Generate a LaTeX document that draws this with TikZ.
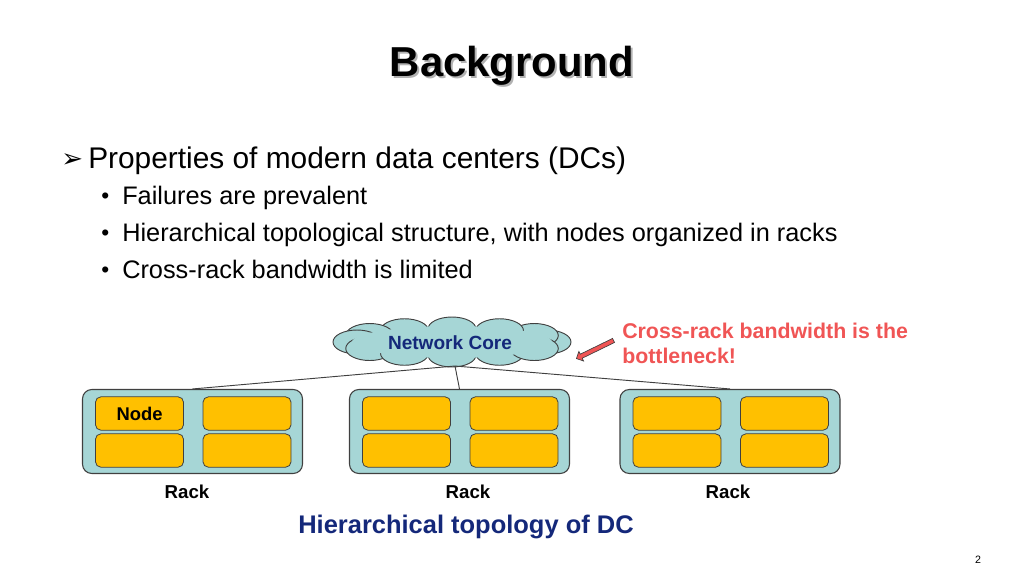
\documentclass[tikz,border=0pt]{standalone}
\usepackage{fontspec}
\setmainfont{Liberation Sans}
\newfontfamily\djv{DejaVu Sans}
\usetikzlibrary{shapes.arrows}
\definecolor{navy}{HTML}{14287A}
\definecolor{teal1}{HTML}{A6D6D6}
\definecolor{gold}{HTML}{FFC000}
\definecolor{redtxt}{HTML}{F05555}
\definecolor{edge}{HTML}{404040}
\tikzset{
  rackbox/.style={draw=edge, fill=teal1, rounded corners=7pt, line width=0.8pt, minimum width=165pt, minimum height=63pt, inner sep=0pt},
  nodebox/.style={draw=edge, fill=gold, rounded corners=4pt, line width=0.6pt, minimum width=66pt, minimum height=25pt, inner sep=0pt, font=\fontsize{13.8}{16}\selectfont\bfseries},
  racklabel/.style={font=\fontsize{14}{16}\selectfont\bfseries, anchor=base},
  subtext/.style={anchor=base west, font=\fontsize{19}{22}\selectfont},
  link/.style={draw=edge, line width=0.7pt},
  puff/.style={draw=edge, fill=teal1, line width=0.7pt},
}
\begin{document}
\begin{tikzpicture}[x=0.75pt,y=-0.75pt]
\useasboundingbox (0,0) rectangle (1024,576);
% title
\node[anchor=base, text=black!30, font=\fontsize{31.4}{36}\selectfont\bfseries] (titleshadow) at (514,78) {Background};
\node[anchor=base, text=black, font=\fontsize{31.4}{36}\selectfont\bfseries] (title) at (512,76) {Background};
% bullets
\node[anchor=base west, inner sep=0pt, font=\djv\fontsize{19.5}{24}\selectfont] (arr) at (61,167) {➢};
\node[anchor=base west, inner sep=0pt, font=\fontsize{22.4}{26}\selectfont] (b0) at (88,168) {Properties of modern data centers (DCs)};
\node[anchor=base west, inner sep=0pt, font=\fontsize{17}{22}\selectfont] (d1) at (101,203) {•};
\node[subtext, inner sep=0pt] (b1) at (122,204) {Failures are prevalent};
\node[anchor=base west, inner sep=0pt, font=\fontsize{17}{22}\selectfont] (d2) at (101,240) {•};
\node[subtext, inner sep=0pt] (b2) at (122,241) {Hierarchical topological structure, with nodes organized in racks};
\node[anchor=base west, inner sep=0pt, font=\fontsize{17}{22}\selectfont] (d3) at (101,277) {•};
\node[subtext, inner sep=0pt] (b3) at (122,278) {Cross-rack bandwidth is limited};
% cloud (union of puffs)
\foreach \ang in {0,30,...,330}{
  \path[puff] ({452+95*cos(\ang)},{342-13*sin(\ang)}) ellipse [x radius=24, y radius=12];
}
\fill[teal1] (452,342) ellipse [x radius=100, y radius=16];
\node[inner sep=0pt, minimum width=176pt, minimum height=36pt] (core) at (452,342) {};
\node[text=navy, font=\fontsize{14.3}{16}\selectfont\bfseries] (corelbl) at (450,343) {Network Core};
\coordinate (corebot) at (455,366);
% racks
\node[rackbox] (r1) at (192.5,431.5) {};
\node[rackbox] (r2) at (459.5,431.5) {};
\node[rackbox] (r3) at (730,431.5) {};
\draw[link] (corebot) -- (r1.north);
\draw[link] (corebot) -- (r2.north);
\draw[link] (corebot) -- (r3.north);
% nodes
\foreach \r/\cx in {1/192.5,2/459.5,3/730}{
  \node[nodebox] (n\r a) at (\cx-53,413.5) {};
  \node[nodebox] (n\r b) at (\cx+54.5,413.5) {};
  \node[nodebox] (n\r c) at (\cx-53,450.5) {};
  \node[nodebox] (n\r d) at (\cx+54.5,450.5) {};
}
\node[font=\fontsize{13.8}{16}\selectfont\bfseries] (nodelbl) at (n1a) {Node};
% rack labels
\node[racklabel] (l1) at (187,498) {Rack};
\node[racklabel] (l2) at (468,498) {Rack};
\node[racklabel] (l3) at (728,498) {Rack};
% red annotation
\node[single arrow, draw=edge, fill=redtxt, line width=0.5pt, minimum height=31pt, minimum width=8pt, single arrow head extend=2pt, inner sep=1.2pt, rotate=206, shape border rotate=0] (redarrow) at (596,349) {};
\node[anchor=base west, align=left, text=redtxt, font=\fontsize{16}{18.75}\selectfont\bfseries, inner sep=0pt] (note) at (622,363) {Cross-rack bandwidth is the\\bottleneck!};
% caption
\node[anchor=base, text=navy, font=\fontsize{19.1}{22}\selectfont\bfseries] (cap) at (466,533) {Hierarchical topology of DC};
\node[anchor=base, font=\fontsize{8}{10}\selectfont] (page) at (978,563) {2};
\end{tikzpicture}
\end{document}
